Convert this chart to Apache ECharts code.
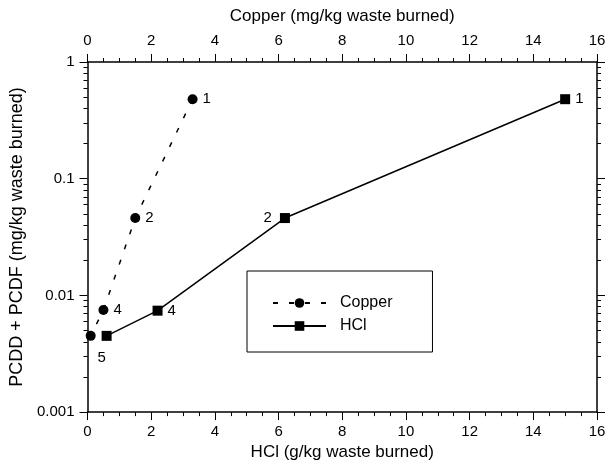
<!DOCTYPE html>
<html>
<head>
<meta charset="utf-8">
<script src="https://cdn.jsdelivr.net/npm/echarts@6/dist/echarts.min.js"></script>
<style>html,body{margin:0;padding:0;background:#fff;}#c{width:612px;height:466px;}</style>
</head>
<body>
<div id="c"></div>
<script>
// ---- data ----
const pointLabels = ['1', '2', '4', '5'];
const copperX = [3.3, 1.5, 0.5, 0.1];        // mg/kg waste burned (top axis)
const copperY = [0.48, 0.046, 0.0075, 0.0045];
const hclX = [15.0, 6.2, 2.2, 0.6];           // g/kg waste burned (bottom axis)
const hclY = [0.48, 0.046, 0.0074, 0.0045];
const hclLabels = ['1', '2', '4', ''];
const xTicks = [0, 2, 4, 6, 8, 10, 12, 14, 16];
const yTicks = [0.001, 0.01, 0.1, 1];
const yMinorTicks = [0.002, 0.003, 0.004, 0.005, 0.006, 0.007, 0.008, 0.009,
  0.02, 0.03, 0.04, 0.05, 0.06, 0.07, 0.08, 0.09,
  0.2, 0.3, 0.4, 0.5, 0.6, 0.7, 0.8, 0.9];

// ---- styles ----
const FONT = 'Liberation Sans, Arial, Helvetica, sans-serif';
const black = '#000';
const copperLabelStyle = [
  {position: 'right'}, {position: 'right'}, {position: 'right'},
  {position: 'bottom', offset: [11, 4]}
];
const hclLabelStyle = [
  {position: 'right'}, {position: 'left', distance: 8}, {position: 'right'}, {position: 'right'}
];

const chart = echarts.init(document.getElementById('c'), null, {renderer: 'canvas'});

function xAxisCfg(pos, name) {
  return {
    type: 'value', position: pos, min: xTicks[0], max: xTicks[xTicks.length - 1], interval: 2,
    name: name, nameLocation: 'middle', nameGap: pos === 'bottom' ? 31 : 37,
    nameTextStyle: {color: black, fontSize: 17, fontFamily: FONT},
    axisLine: {show: true, onZero: false, lineStyle: {color: black, width: 1.5}},
    axisTick: {show: true, inside: false, length: 8, lineStyle: {color: black, width: 1}},
    minorTick: {show: true, splitNumber: 4, length: 4, lineStyle: {color: black, width: 1}},
    axisLabel: {color: black, fontSize: 15, fontFamily: FONT, margin: pos === 'bottom' ? 12 : 14},
    splitLine: {show: false}, minorSplitLine: {show: false}
  };
}

function yAxisCfg(pos, labels, minor) {
  const base = {
    type: 'log', logBase: 10, position: pos, min: yTicks[0], max: yTicks[yTicks.length - 1],
    axisLine: {show: !minor, onZero: false, lineStyle: {color: black, width: 1.5}},
    splitLine: {show: false},
    axisLabel: {show: labels, color: black, fontSize: 15, fontFamily: FONT, margin: 13,
      formatter: v => String(v)}
  };
  if (minor) {
    base.axisTick = {show: true, inside: false, length: 4, customValues: yMinorTicks,
      lineStyle: {color: black, width: 1}};
  } else {
    base.axisTick = {show: true, inside: false, length: 8, customValues: yTicks,
      lineStyle: {color: black, width: 1}};
  }
  if (labels) {
    base.name = 'PCDD + PCDF (mg/kg waste burned)';
    base.nameLocation = 'middle';
    base.nameGap = 58;
    base.nameTextStyle = {color: black, fontSize: 18, fontFamily: FONT};
  }
  return base;
}

const labelBase = {show: true, color: black, fontSize: 15, fontFamily: FONT, distance: 5};

const option = {
  animation: false,
  backgroundColor: '#fff',
  textStyle: {fontFamily: FONT},
  grid: {left: 87.5, right: 15, top: 62, bottom: 49, containLabel: false},
  xAxis: [
    xAxisCfg('bottom', 'HCl (g/kg waste burned)'),
    xAxisCfg('top', 'Copper (mg/kg waste burned)')
  ],
  yAxis: [
    yAxisCfg('left', true, false),
    yAxisCfg('left', false, true),
    yAxisCfg('right', false, false),
    yAxisCfg('right', false, true)
  ],
  legend: {
    orient: 'vertical', left: 247, top: 271,
    padding: [24, 40, 18, 25], itemGap: 7,
    borderColor: black, borderWidth: 1,
    itemWidth: 53, itemHeight: 12,
    textStyle: {color: black, fontSize: 16, fontFamily: FONT, padding: [0, 0, 0, 9]},
    data: ['Copper', 'HCl']
  },
  series: [
    {
      name: 'Copper', type: 'line', xAxisIndex: 1, yAxisIndex: 0,
      symbol: 'circle', symbolSize: 10,
      itemStyle: {color: black},
      lineStyle: {color: black, width: 1.5, type: [5, 11]},
      data: copperX.map((x, i) => ({
        value: [x, copperY[i]],
        label: Object.assign({}, labelBase, copperLabelStyle[i], {formatter: pointLabels[i]})
      }))
    },
    {
      name: 'HCl', type: 'line', xAxisIndex: 0, yAxisIndex: 0,
      symbol: 'rect', symbolSize: 10,
      itemStyle: {color: black},
      lineStyle: {color: black, width: 1.5, type: 'solid'},
      data: hclX.map((x, i) => ({
        value: [x, hclY[i]],
        label: Object.assign({}, labelBase, hclLabelStyle[i], {formatter: hclLabels[i], show: hclLabels[i] !== ''})
      }))
    }
  ]
};
chart.setOption(option);
</script>
</body>
</html>
